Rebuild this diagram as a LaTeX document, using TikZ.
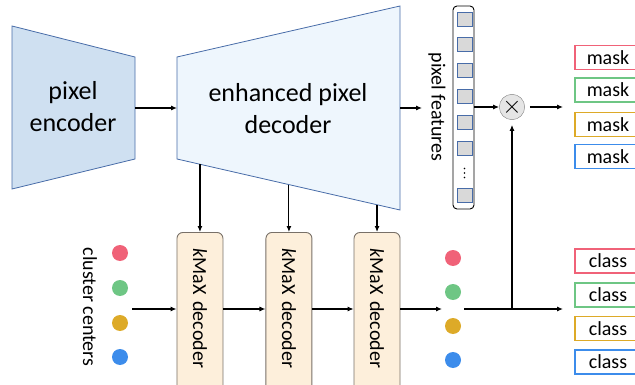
\documentclass[tikz,border=0pt]{standalone}
\usepackage{fontspec}
\setmainfont{Carlito}
\usetikzlibrary{arrows.meta,calc}
\definecolor{encline}{RGB}{72,108,168}
\definecolor{encfill}{RGB}{207,224,241}
\definecolor{decfill}{RGB}{238,246,253}
\definecolor{cellfill}{RGB}{217,217,217}
\definecolor{kmaxfill}{RGB}{253,239,219}
\definecolor{kmaxline}{RGB}{120,112,104}
\definecolor{cred}{RGB}{240,98,120}
\definecolor{cgreen}{RGB}{110,198,132}
\definecolor{cgold}{RGB}{221,170,40}
\definecolor{cblue}{RGB}{60,140,235}
\begin{document}
\begin{tikzpicture}[x=1pt,y=-1pt,
  arr/.style={-{Latex[length=6pt,width=5pt]},line width=1.1pt},
  big/.style={font=\fontsize{26}{32}\selectfont,align=center},
  lbl/.style={font=\fontsize{20}{24}\selectfont},
  kmax/.style={draw=kmaxline,line width=0.9pt,fill=kmaxfill,rounded corners=6pt,rotate=-90,lbl,
    text width=138pt,inner xsep=16pt,inner ysep=0pt,minimum height=46pt,align=left},
  cell/.style={draw=encline,fill=cellfill,minimum width=15pt,minimum height=14pt,
    inner sep=0pt,line width=0.7pt},
  outbox/.style={draw=#1,line width=1.6pt,fill=white,minimum width=66pt,
    minimum height=24pt,inner sep=0pt,lbl},
  cdot/.style={fill=#1,circle,minimum size=16pt,inner sep=0pt}]
\useasboundingbox (0,0) rectangle (635,385);

% encoder and decoder
\draw[encline,fill=encfill,line width=0.8pt] (12,26) -- (135,57) coordinate (encTR)
  -- (135,159) -- (12,189) -- cycle;
\node[big] (enc) at (73,107) {pixel\\encoder};
\draw[encline,fill=decfill,line width=0.8pt] (177,57) -- (400,6)
  -- (400,210) coordinate (dbr) -- (177,159) coordinate (dbl) -- cycle;
\node[big] (dec) at (288,109) {enhanced pixel\\decoder};
\coordinate (encR) at (135,108);
\coordinate (decL) at (177,108);
\coordinate (decR) at (400,108);
\coordinate (pfIn) at (422,108);
\draw[arr] (encR) -- (decL);
\draw[arr] (decR) -- (pfIn);

% pixel features
\node[lbl,rotate=-90] (pf) at (437,107) {pixel features};
\node[draw,rounded corners=4pt,line width=0.9pt,minimum width=21pt,minimum height=203pt,
  inner sep=0pt] (col) at (463.5,107.5) {};
\foreach \y [count=\i] in {19,44.5,70,96,122,148.5,195.5}
  \node[cell] (c\i) at (464.5,\y) {};
\foreach \y in {168.5,173,177.5}
  \fill (464.5,\y) circle (0.9pt);
\node[circle,draw=gray,fill=gray!20,minimum size=22pt,inner sep=0pt,
  font=\fontsize{24}{24}\selectfont] (mul) at (512,107) {$\times$};
\coordinate (maskIn) at (563,107);
\draw[arr] (col.east |- mul) -- (mul);
\draw[arr,shorten <=5pt] (mul) -- (maskIn);

% kMaX decoders
\coordinate (row) at (0,309);
\coordinate (t1) at ($(dbl)!0.103!(dbr)$);
\coordinate (t2) at ($(dbl)!0.502!(dbr)$);
\coordinate (t3) at ($(dbl)!0.897!(dbr)$);
\foreach \i in {1,2,3}{
  \node[kmax,anchor=west] (k\i) at (t\i |- 0,232) {\textit{k}MaX decoder};
  \draw[arr] (t\i) -- (k\i.west);
}
\node[lbl,rotate=-90] (cc) at (90,307) {cluster centers};
\node[cdot=cred] (a1) at (120,253) {};
\node[cdot=cgreen] (a2) at (120,288) {};
\node[cdot=cgold] (a3) at (120,323) {};
\node[cdot=cblue] (a4) at (120,357) {};
\coordinate (ccOut) at (132,309);
\draw[arr] (ccOut) -- (k1.south |- row);
\draw[arr] (k1.north |- row) -- (k2.south |- row);
\draw[arr] (k2.north |- row) -- (k3.south |- row);
\node[cdot=cred] (b1) at (453,258) {};
\node[cdot=cgreen] (b2) at (453,292) {};
\node[cdot=cgold] (b3) at (453,326) {};
\node[cdot=cblue] (b4) at (453,360) {};
\coordinate (dotsIn) at (442,309);
\coordinate (dotsOut) at (464,309);
\coordinate (jn) at (512,309);
\coordinate (clsIn) at (563,309);
\draw[arr] (k3.north |- row) -- (dotsIn);
\draw[arr] (dotsOut) -- (clsIn);
\draw[arr,shorten >=5pt] (jn) -- (mul);

% outputs
\node[outbox=cred] (m1) at (608,57.5) {mask};
\node[outbox=cgreen] (m2) at (608,90) {mask};
\node[outbox=cgold] (m3) at (608,124.5) {mask};
\node[outbox=cblue] (m4) at (608,156.5) {mask};
\node[outbox=cred] (l1) at (608,261) {class};
\node[outbox=cgreen] (l2) at (608,295) {class};
\node[outbox=cgold] (l3) at (608,328.5) {class};
\node[outbox=cblue] (l4) at (608,362) {class};
\end{tikzpicture}
\end{document}
